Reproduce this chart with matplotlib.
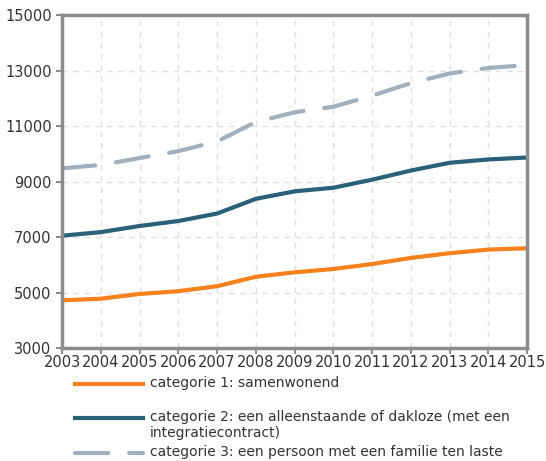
import matplotlib.pyplot as plt
from matplotlib.lines import Line2D

years = list(range(2003, 2016))
cat1 = [4720, 4780, 4950, 5050, 5230, 5570, 5730, 5850, 6030, 6250, 6420, 6550, 6600]
cat2 = [7050, 7180, 7400, 7580, 7850, 8380, 8650, 8780, 9070, 9400, 9680, 9800, 9870]
cat3 = [9480, 9600, 9850, 10100, 10450, 11150, 11500, 11700, 12100, 12550, 12900, 13100, 13200]
labels = ["categorie 1: samenwonend",
          "categorie 2: een alleenstaande of dakloze (met een\nintegratiecontract)",
          "categorie 3: een persoon met een familie ten laste"]
yticks = [3000, 5000, 7000, 9000, 11000, 13000, 15000]

c1, c2, c3 = "#F5821F", "#2A6179", "#A2AFBD"

plt.rcParams['font.family'] = ['DejaVu Sans']
fig = plt.figure(figsize=(5.46, 4.61), dpi=100)
ax = fig.add_axes([0.1136, 0.245, 0.852, 0.722])

ax.plot(years, cat1, color=c1, lw=3, solid_capstyle='butt')
ax.plot(years, cat2, color=c2, lw=3, solid_capstyle='butt')
ax.plot(years, cat3, color=c3, lw=3, dashes=(8, 5), dash_capstyle='round')

ax.set_xlim(2003, 2015)
ax.set_ylim(3000, 15000)
ax.set_xticks(years)
ax.set_yticks(yticks)
ax.tick_params(labelsize=10.5, colors="#333333", length=4, width=1.5)
ax.tick_params(axis='x', pad=1)
ax.grid(True, color="#e0e0e0", linestyle=(0, (4, 4)), lw=1)
for s in ax.spines.values():
    s.set_color("#8c8c8c")
    s.set_linewidth(2.5)
ax.tick_params(color="#8c8c8c")

# legend drawn below the axes
ys = [384, 418, 453]
styles = [dict(color=c1, lw=3), dict(color=c2, lw=3),
          dict(color=c3, lw=3, dashes=(8, 5), dash_capstyle='round')]
W, H = 546, 461
for y, lab, st in zip(ys, labels, styles):
    fy = 1 - y / H
    fig.add_artist(Line2D([75 / W, 143 / W], [fy, fy], transform=fig.transFigure, **st))
    fig.text(150 / W, fy + 8 / H, lab, fontsize=10, color="#333333", va='top',
             linespacing=1.2)

fig.savefig("out.png", dpi=100)
